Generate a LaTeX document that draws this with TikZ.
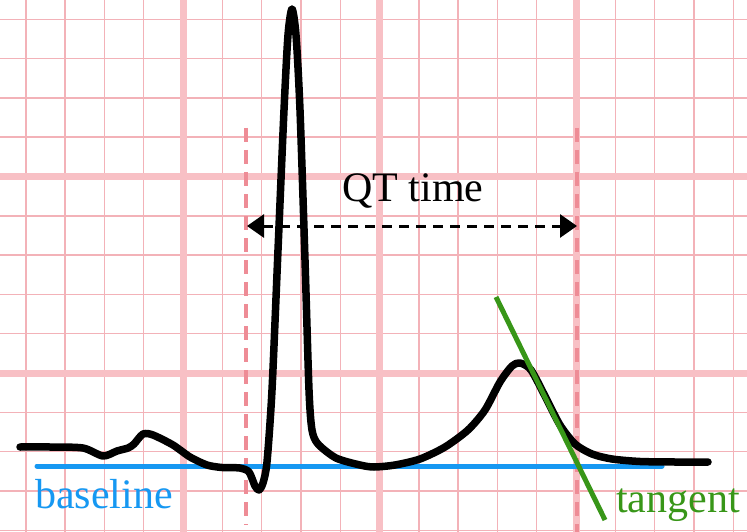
\documentclass[tikz,border=0pt]{standalone}
\usepackage{fontspec}
\setmainfont{Liberation Serif}
\usetikzlibrary{arrows.meta}

\definecolor{gridpink}{RGB}{243,178,184}
\definecolor{majorpink}{RGB}{248,192,197}
\definecolor{markpink}{RGB}{238,140,150}
\definecolor{baseblue}{RGB}{22,152,242}
\definecolor{tangreen}{RGB}{56,150,24}

\begin{document}
\begin{tikzpicture}[x=1pt,y=-1pt,
    gridthin/.style={gridpink,line width=1.4pt},
    gridthick/.style={majorpink,line width=7pt},
    marker/.style={markpink,line width=3.5pt,dash pattern=on 14pt off 8pt},
    trace/.style={black,line width=7.5pt,line cap=round,line join=round},
    label/.style={font=\fontsize{42}{46}\selectfont,inner sep=0pt}]
      \useasboundingbox (0,0) rectangle (747,532);
      \fill[white] (0,0) rectangle (747,532);

      % Grid
      \foreach \i in {0,...,18}
        \draw[gridthin] ({25.8+39.3*\i},0) -- ++(0,532);
      \foreach \j in {0,...,13}
        \draw[gridthin] (0,{19.3+39.3*\j}) -- ++(747,0);
      \foreach \i in {0,5,10}
        \draw[gridthick] ({183+39.3*\i},0) -- ++(0,532);
      \foreach \j in {0,5}
        \draw[gridthick] (0,{176.5+39.3*\j}) -- ++(747,0);

      % Q and T markers
      \coordinate (qtop) at (246,128);
      \coordinate (qbot) at (246,525);
      \coordinate (ttop) at (577,128);
      \coordinate (tbot) at (577,532);
      \draw[marker] (qtop) -- (qbot);
      \draw[marker] (ttop) -- (tbot);

      % Baseline
      \coordinate (bl) at (37,466);
      \coordinate (br) at (662,466);
      \draw[baseblue,line width=5pt,line cap=round] (bl) -- (br);

      % Trace
      \draw[trace] plot[smooth,tension=0.45] coordinates {
        (20,447) (50,447) (83,448) (103,456) (117,451) (128,448)
        (134,444) (143,434) (153,435) (173,445) (190,457) (207,465)
        (222,467.5) (240,468) (249,472) (255,486) (259,490) (263,483)
        (267,462) (272,390) (278,250) (284,110) (288,35) (292,9)
        (296,35) (300,110) (305,260) (309,390) (312,430) (318,444)
        (336,458) (360,465) (374,467) (395,465) (420,459) (445,447)
        (468,430) (485,410) (500,382) (512,366) (520,363) (531,370)
        (546,398) (560,425) (575,444) (592,454) (612,459) (640,461.5)
        (675,462) (708,462) };

      % Tangent
      \coordinate (tgtop) at (496,297);
      \coordinate (tgbot) at (605,520);
      \draw[tangreen,line width=5pt] (tgtop) -- (tgbot);

      % QT time
      \coordinate (qa) at (247,226);
      \coordinate (ta) at (577,226);
      \draw[black,line width=3pt,dash pattern=on 10pt off 7pt,
        {Triangle[length=17pt,width=23pt]}-{Triangle[length=17pt,width=23pt]}]
        (qa) -- (ta);

      % Labels
      \node[label,black] (qt) at (413,191) {QT time};
      \node[label,baseblue,anchor=base west] (base) at (35,508) {baseline};
      \node[label,tangreen,anchor=base west] (tang) at (616,512) {tangent};
\end{tikzpicture}
\end{document}
